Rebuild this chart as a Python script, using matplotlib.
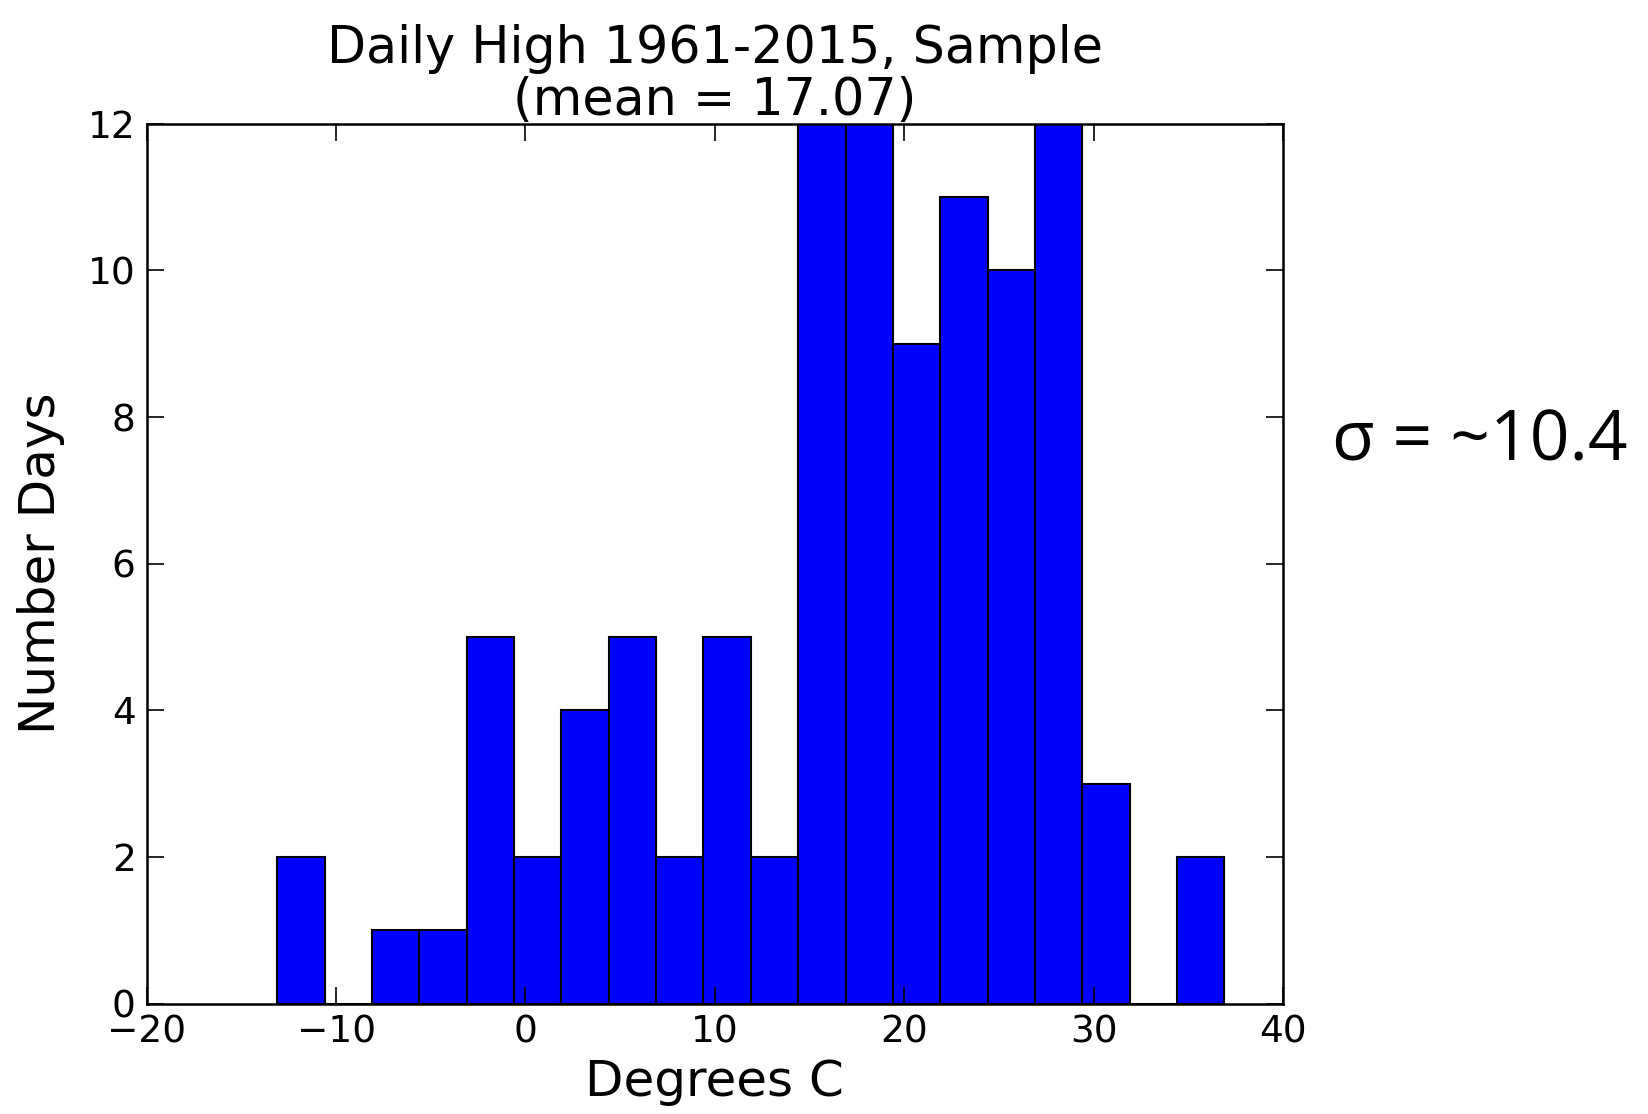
import matplotlib
matplotlib.use("Agg")
import matplotlib.pyplot as plt
import numpy as np

# Histogram of a 100-day sample of daily highs
bin_edges = [-13.1, -10.6, -8.1, -5.6, -3.1, -0.6, 1.9, 4.4, 6.9, 9.4, 11.9,
             14.4, 16.9, 19.4, 21.9, 24.4, 26.9, 29.4, 31.9, 34.4, 36.9]
counts = [2, 0, 1, 1, 5, 2, 4, 5, 2, 5, 2, 12, 12, 9, 11, 10, 12, 3, 0, 2]

x_ticks = [-20, -10, 0, 10, 20, 30, 40]
y_ticks = [0, 2, 4, 6, 8, 10, 12]

title_text = "Daily High 1961-2015, Sample\n(mean = 17.07)"
sigma_text = "σ = ~10.4"


def plot_histogram():
    plt.rcParams['font.family'] = ['DejaVu Sans']
    fig = plt.figure(figsize=(16.49, 11.14), dpi=100)
    ax = fig.add_axes([0.089, 0.099, 0.689, 0.790])

    edges = np.array(bin_edges)
    ax.bar(edges[:-1], counts, width=np.diff(edges), align='edge',
           color='#0000ff', edgecolor='black', linewidth=1.5)

    ax.set_xlim(-20, 40)
    ax.set_ylim(0, 12)
    ax.set_xticks(x_ticks)
    ax.set_yticks(y_ticks)
    ax.tick_params(direction='in', length=12, width=1.2, labelsize=27,
                   top=True, right=True, pad=8)
    for spine in ax.spines.values():
        spine.set_linewidth(1.8)

    ax.set_title(title_text, fontsize=36.5, pad=6, linespacing=1.05)
    ax.set_xlabel("Degrees C", fontsize=36)
    ax.set_ylabel("Number Days", fontsize=36)
    ax.xaxis.set_label_coords(0.5, -0.062)
    ax.yaxis.set_label_coords(-0.072, 0.5)

    fig.text(0.808, 0.603, sigma_text, fontsize=50, family='Open Sans',
             ha='left', va='center')

    fig.savefig("out.png", dpi=100, facecolor='white')


if __name__ == "__main__":
    plot_histogram()
